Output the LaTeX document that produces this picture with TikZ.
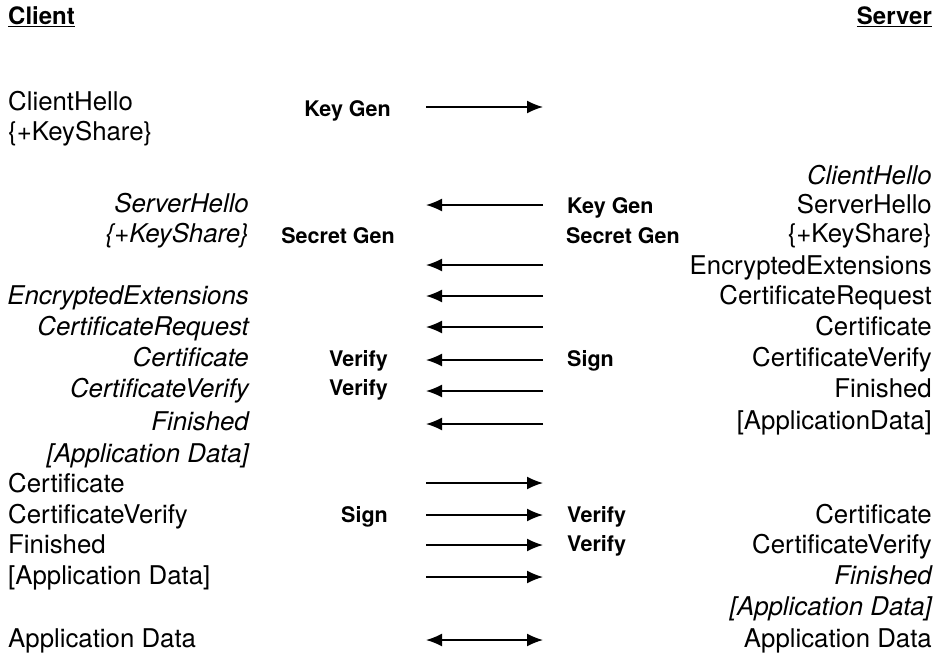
\documentclass[tikz,border=0pt]{standalone}
\usepackage{fontspec}
\setmainfont{TeX Gyre Heros}
\usetikzlibrary{arrows.meta}

\begin{document}
\begin{tikzpicture}[
    x=1pt, y=-1pt,
    font=\fontsize{25.8}{30}\selectfont,
    >={Latex[length=16pt,width=13pt]},
    msg/.style={line width=1.6pt},
    party/.style={inner sep=0pt, font=\fontsize{24}{29}\selectfont\bfseries},
    cplain/.style={anchor=mid west, inner sep=0pt, yshift=-5pt},
    cemph/.style={anchor=mid east, inner sep=0pt, yshift=-5pt, font=\fontsize{25.8}{30}\selectfont\itshape},
    splain/.style={anchor=mid east, inner sep=0pt, yshift=-5pt},
    semph/.style={anchor=mid east, inner sep=0pt, yshift=-5pt, font=\fontsize{25.8}{30}\selectfont\itshape},
    cop/.style={anchor=mid east, inner sep=0pt, yshift=-4pt, font=\fontsize{21.5}{25}\selectfont\bfseries},
    sop/.style={anchor=mid west, inner sep=0pt, yshift=-4pt, font=\fontsize{21.5}{25}\selectfont\bfseries}
]

\useasboundingbox (0,0) rectangle (941,656);

% ==========================================
% 1. HEADERS
% ==========================================

\node[party, anchor=mid west] (client) at (8,22) {\underline{Client}};
\node[party, anchor=mid east] (server) at (932,22) {\underline{Server}};

% ==========================================
% 2. CLIENT COLUMN
% ==========================================

\node[cplain] (c1) at (8,103) {ClientHello};
\node[cplain] (c2) at (8,133) {\{+KeyShare\}};

\node[cemph] (c3) at (249,205) {ServerHello};
\node[cemph] (c4) at (249,235) {\{+KeyShare\}};
\node[cemph] (c5) at (249,297) {EncryptedExtensions};
\node[cemph] (c6) at (249,328) {CertificateRequest};
\node[cemph] (c7) at (249,359) {Certificate};
\node[cemph] (c8) at (249,390) {CertificateVerify};
\node[cemph] (c9) at (249,423) {Finished};
\node[cemph] (c10) at (249,455) {[Application Data]};

\node[cplain] (c11) at (8,485) {Certificate};
\node[cplain] (c12) at (8,516) {CertificateVerify};
\node[cplain] (c13) at (8,546) {Finished};
\node[cplain] (c14) at (8,577) {[Application Data]};
\node[cplain] (c15) at (8,640) {Application Data};

% ==========================================
% 3. SERVER COLUMN
% ==========================================

\node[semph] (s1) at (932,177) {ClientHello};
\node[splain] (s2) at (932,206) {ServerHello};
\node[splain] (s3) at (932,235) {\{+KeyShare\}};
\node[splain] (s4) at (932,267) {EncryptedExtensions};
\node[splain] (s5) at (932,297) {CertificateRequest};
\node[splain] (s6) at (932,328) {Certificate};
\node[splain] (s7) at (932,359) {CertificateVerify};
\node[splain] (s8) at (932,390) {Finished};
\node[splain] (s9) at (932,422) {[ApplicationData]};

\node[splain] (s10) at (932,516) {Certificate};
\node[splain] (s11) at (932,546) {CertificateVerify};
\node[semph] (s12) at (932,577) {Finished};
\node[semph] (s13) at (932,608) {[Application Data]};
\node[splain] (s14) at (932,640) {Application Data};

% ==========================================
% 4. OPERATIONS
% ==========================================

\node[cop] (keygenc) at (391,110) {Key Gen};
\node[cop] (secretc) at (395,237) {Secret Gen};
\node[cop] (verifyc1) at (388,360) {Verify};
\node[cop] (verifyc2) at (388,389) {Verify};
\node[cop] (signc) at (388,516) {Sign};

\node[sop] (keygens) at (567,207) {Key Gen};
\node[sop] (secrets) at (566,237) {Secret Gen};
\node[sop] (signs) at (567,360) {Sign};
\node[sop] (verifys1) at (567,516) {Verify};
\node[sop] (verifys2) at (567,545) {Verify};

% ==========================================
% 5. MESSAGE ARROWS
% ==========================================

\foreach \n/\y in {1/107, 2/205, 3/265, 4/296, 5/327, 6/360, 7/391, 8/424,
                   9/483, 10/515, 11/545, 12/577, 13/640}{
    \coordinate (l\n) at (426,\y);
    \coordinate (r\n) at (543,\y);
}

\draw[msg, ->] (l1) -- (r1);
\foreach \n in {2,...,8}
    \draw[msg, ->] (r\n) -- (l\n);
\foreach \n in {9,...,12}
    \draw[msg, ->] (l\n) -- (r\n);
\draw[msg, <->] (l13) -- (r13);

\end{tikzpicture}
\end{document}
